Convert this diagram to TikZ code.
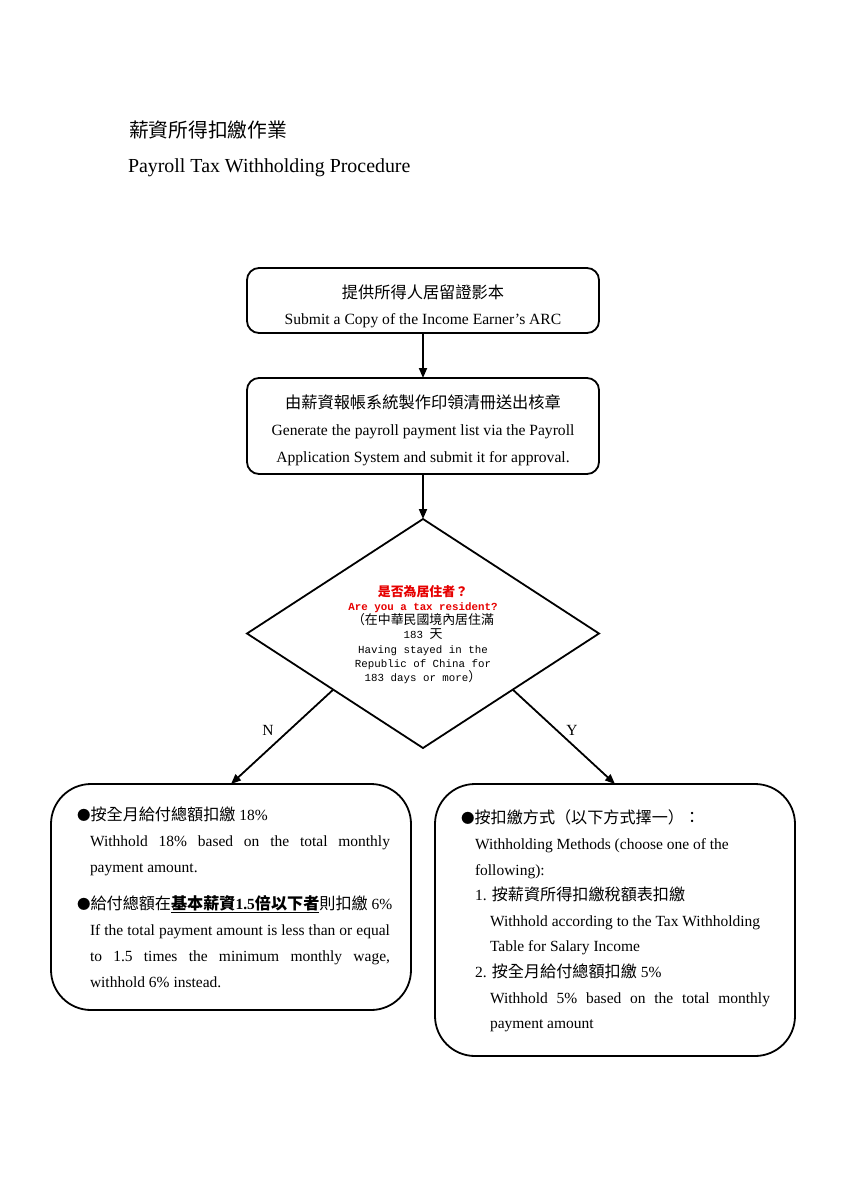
\documentclass[tikz,border=0pt]{standalone}
\usepackage{fontspec}
\setmainfont{Liberation Serif}
\setmonofont{Liberation Mono}
\newfontfamily\cjk{Noto Sans CJK TC}[Scale=1.04]
\usetikzlibrary{arrows.meta,shapes.geometric,calc}
\definecolor{resred}{RGB}{230,0,0}
\newcommand{\dcjk}[1]{{\fontsize{12.4}{14.2}\cjk\selectfont #1}}
\newcommand{\bul}{{\fontsize{13}{15}\selectfont\cjk ●}}
\begin{document}
\begin{tikzpicture}[x=1pt,y=-1pt,
  every node/.style={inner sep=0pt,outer sep=0pt},
  arr/.style={line width=1.8pt,-{Triangle[length=10pt,width=8pt]}},
  sbox/.style={draw,line width=1.8pt,rounded corners=12pt},
  bbox/.style={draw,line width=1.8pt,rounded corners=40pt},
  body/.style={font=\fontsize{15.5}{26}\selectfont,align=left,anchor=north west}
]
\useasboundingbox (0,0) rectangle (849,1200);
% titles
\node[anchor=west,font=\fontsize{19}{22}\selectfont\cjk] (t1) at (129,130) {薪資所得扣繳作業};
\node[anchor=west,font=\fontsize{19.9}{22}\selectfont] (t2) at (128,168) {Payroll Tax Withholding Procedure};
% box 1
\node[sbox,minimum width=352pt,minimum height=65pt] (b1) at (423,300.5) {};
\node[font=\fontsize{15.6}{26}\selectfont,align=center] (b1t) at (423,306) {{\cjk 提供所得人居留證影本}\\Submit a Copy of the Income Earner’s ARC};
% box 2
\node[sbox,minimum width=352pt,minimum height=96pt] (b2) at (423,426) {};
\node[font=\fontsize{15.6}{27}\selectfont,align=center] (b2t) at (423,430.5) {{\cjk 由薪資報帳系統製作印領清冊送出核章}\\Generate the payroll payment list via the Payroll\\Application System and submit it for approval.};
% diamond
\node[draw,diamond,line width=1.8pt,minimum width=352pt,minimum height=229pt] (d) at (423,633.5) {};
\node[font=\fontsize{10.8}{14.2}\ttfamily\selectfont,align=center] (dt) at (423,634.5) {{\color{resred}\bfseries\dcjk{是否為居住者？}}\\{\color{resred}\bfseries Are you a tax resident?}\\\dcjk{（在中華民國境內居住滿}\\183 \dcjk{天}\\Having stayed in the\\Republic of China for\\183 days or more\dcjk{）}};
% bottom boxes
\node[bbox,minimum width=360pt,minimum height=226pt] (lb) at (231,897) {};
\node[bbox,minimum width=360pt,minimum height=272pt] (rb) at (615,920) {};
% connectors
\draw[arr] (b1.south) -- (b2.north);
\draw[arr] (b2.south) -- (d.north);
\coordinate (nstart) at ($(d.west)!0.49!(d.south)$);
\coordinate (ystart) at ($(d.east)!0.49!(d.south)$);
\draw[arr] (nstart) -- (lb.north);
\draw[arr] (ystart) -- (rb.north);
\node[font=\fontsize{15.5}{18}\selectfont] (nl) at (268,730) {N};
\node[font=\fontsize{15.5}{18}\selectfont] (yl) at (572,730) {Y};
% left text
\node[body] (lbt) at (77,807) {%
\bul{\cjk 按全月給付總額扣繳} 18\%\\
\hspace*{13pt}\makebox[300pt][s]{Withhold 18\% based on the total monthly}\\
\hspace*{13pt}payment amount.\\[11pt]
\bul{\cjk 給付總額在}\underline{\bfseries{\cjk 基本薪資}1.5{\cjk 倍以下者}}{\cjk 則扣繳} 6\%\\
\hspace*{13pt}\makebox[300pt][s]{If the total payment amount is less than or equal}\\
\hspace*{13pt}\makebox[300pt][s]{to 1.5 times the minimum monthly wage,}\\
\hspace*{13pt}withhold 6\% instead.};
% right text
\node[body,font=\fontsize{15.5}{25.6}\selectfont] (rbt) at (461,810) {%
\bul{\cjk 按扣繳方式（以下方式擇一）：}\\
\hspace*{14pt}Withholding Methods (choose one of the\\
\hspace*{14pt}following):\\
\hspace*{14pt}1. {\cjk 按薪資所得扣繳稅額表扣繳}\\
\hspace*{29pt}Withhold according to the Tax Withholding\\
\hspace*{29pt}Table for Salary Income\\
\hspace*{14pt}2. {\cjk 按全月給付總額扣繳} 5\%\\
\hspace*{29pt}\makebox[280pt][s]{Withhold 5\% based on the total monthly}\\
\hspace*{29pt}payment amount};
\end{tikzpicture}
\end{document}
